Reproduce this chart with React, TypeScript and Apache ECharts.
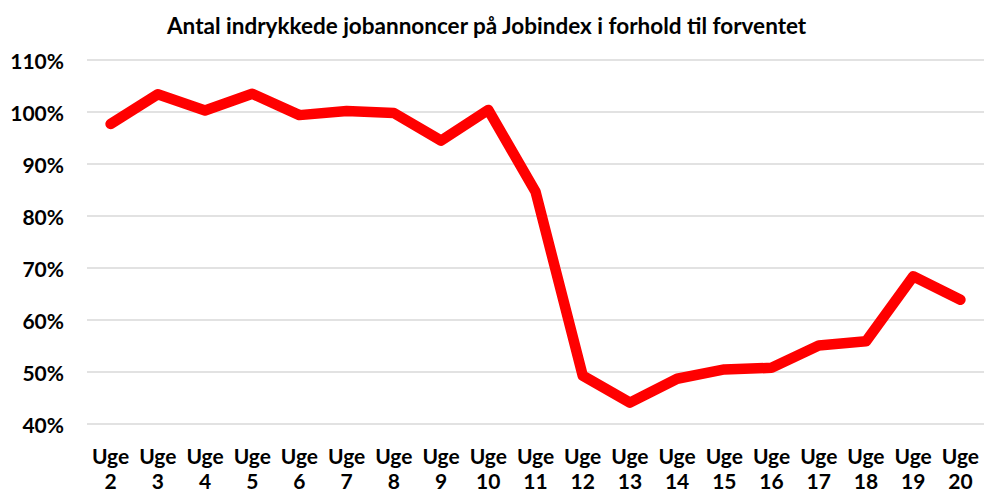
import React, { useEffect, useRef } from "react";
import * as echarts from "echarts";

const weeks = ["Uge\n2","Uge\n3","Uge\n4","Uge\n5","Uge\n6","Uge\n7","Uge\n8","Uge\n9","Uge\n10","Uge\n11","Uge\n12","Uge\n13","Uge\n14","Uge\n15","Uge\n16","Uge\n17","Uge\n18","Uge\n19","Uge\n20"];
const values = [97.7, 103.4, 100.3, 103.5, 99.4, 100.2, 99.8, 94.5, 100.4, 84.7, 49.3, 44.1, 48.7, 50.5, 50.8, 55.1, 55.9, 68.4, 63.9];
const title = "Antal indrykkede jobannoncer på Jobindex i forhold til forventet";

const FONT = "Lato, 'Open Sans', sans-serif";

export default function App() {
  const ref = useRef<HTMLDivElement>(null);
  useEffect(() => {
    const chart = echarts.init(ref.current!, undefined, { renderer: "svg" });
    chart.setOption({
      animation: false,
      title: {
        text: title,
        left: 162,
        top: 9,
        textStyle: { fontFamily: FONT, fontWeight: "bold", fontSize: 22.5, color: "#000" },
      },
      grid: { left: 87, right: -6, top: 60, bottom: 60, containLabel: false },
      xAxis: {
        type: "category",
        data: weeks,
        boundaryGap: true,
        axisLine: { show: false },
        axisTick: { show: false },
        axisLabel: {
          interval: 0,
          margin: 19,
          fontFamily: FONT,
          fontWeight: "bold",
          fontSize: 21,
          color: "#000",
          lineHeight: 25,
        },
      },
      yAxis: {
        type: "value",
        min: 40,
        max: 110,
        interval: 10,
        axisLine: { show: false },
        axisTick: { show: false },
        splitLine: { lineStyle: { color: "#d9d9d9", width: 1.5 } },
        axisLabel: {
          formatter: "{value}%",
          margin: 23,
          fontFamily: FONT,
          fontWeight: "bold",
          fontSize: 21,
          color: "#000",
        },
      },
      series: [
        {
          type: "line",
          data: values,
          symbol: "none",
          lineStyle: { color: "#ff0000", width: 10.5, join: "round", cap: "round" },
        },
      ],
    });
    return () => chart.dispose();
  }, []);
  return <div ref={ref} style={{ position: "absolute", left: 0, top: 0, width: 984, height: 493 }} />;
}
